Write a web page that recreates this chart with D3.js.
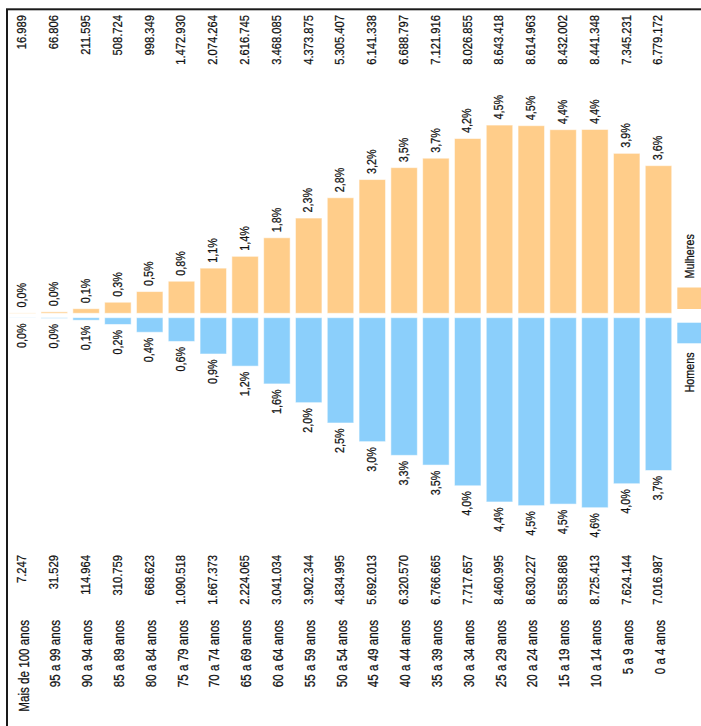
<!DOCTYPE html>
<html>
<head>
<meta charset="utf-8">
<script src="https://cdn.jsdelivr.net/npm/d3@7"></script>
<style>
  html, body { margin: 0; padding: 0; background: #fff; overflow: hidden; }
  svg { display: block; }
  text { font-family: "Liberation Sans", Arial, sans-serif; fill: #111; stroke: #111; stroke-width: 0.25px; }
</style>
</head>
<body>
<svg id="chart" width="701" height="726"></svg>
<script>
// Faixas etárias, da mais velha para a mais nova
const faixas = [
  "Mais de 100 anos", "95 a 99 anos", "90 a 94 anos", "85 a 89 anos", "80 a 84 anos",
  "75 a 79 anos", "70 a 74 anos", "65 a 69 anos", "60 a 64 anos", "55 a 59 anos",
  "50 a 54 anos", "45 a 49 anos", "40 a 44 anos", "35 a 39 anos", "30 a 34 anos",
  "25 a 29 anos", "20 a 24 anos", "15 a 19 anos", "10 a 14 anos", "5 a 9 anos", "0 a 4 anos"
];

// População feminina por faixa
const mulheres = [
  16989, 66806, 211595, 508724, 998349,
  1472930, 2074264, 2616745, 3468085, 4373875,
  5305407, 6141338, 6688797, 7121916, 8026855,
  8643418, 8614963, 8432002, 8441348, 7345231, 6779172
];

// População masculina por faixa
const homens = [
  7247, 31529, 114964, 310759, 668623,
  1090518, 1667373, 2224065, 3041034, 3902344,
  4834995, 5692013, 6320570, 6766665, 7717657,
  8460995, 8630227, 8558868, 8725413, 7624144, 7016987
];

const legenda = ["Mulheres", "Homens"];
const cores = { mulheres: "#FFCD8A", homens: "#8BCFFB" };

const ptBR = d3.formatLocale({ decimal: ",", thousands: ".", grouping: [3], currency: ["R$", ""] });
const fmtNum = ptBR.format(",d");
const fmtPct = ptBR.format(".1f");
const total = d3.sum(mulheres) + d3.sum(homens);
const pct = v => fmtPct(v / total * 100) + "%";

const svg = d3.select("#chart");

// Moldura
svg.append("rect")
  .attr("x", 7).attr("y", 9.3)
  .attr("width", 800).attr("height", 800)
  .attr("fill", "none").attr("stroke", "#1a1a1a").attr("stroke-width", 2);

// Escalas
const x = d3.scaleBand()
  .domain(faixas)
  .range([6.6, 6.6 + 21 * 31.8])
  .paddingInner(0.167)
  .paddingOuter(0.0835);

const len = d3.scaleLinear().domain([0, 9e6]).range([0, 196]);

const baseM = 313.3;   // base das barras femininas (crescem para cima)
const baseH = 317.7;   // base das barras masculinas (crescem para baixo)
const cx = d => x(d) + x.bandwidth() / 2;

// Rótulo girado (lê de baixo para cima), fonte levemente condensada
function rotLabel(g, px, py, txt, anchor, size) {
  g.append("text")
    .attr("transform", `translate(${px},${py}) rotate(-90) scale(0.83,1)`)
    .attr("text-anchor", anchor)
    .attr("dy", "0.36em")
    .style("font-size", size + "px")
    .text(txt);
}

// Barras femininas
svg.append("g").selectAll("rect")
  .data(faixas)
  .join("rect")
  .attr("x", d => x(d))
  .attr("width", x.bandwidth())
  .attr("y", (d, i) => baseM - len(mulheres[i]))
  .attr("height", (d, i) => len(mulheres[i]))
  .attr("fill", cores.mulheres)
  .attr("stroke", "rgba(255,255,255,0.55)")
  .attr("stroke-width", 1);

// Barras masculinas
svg.append("g").selectAll("rect")
  .data(faixas)
  .join("rect")
  .attr("x", d => x(d))
  .attr("width", x.bandwidth())
  .attr("y", baseH)
  .attr("height", (d, i) => len(homens[i]))
  .attr("fill", cores.homens)
  .attr("stroke", "rgba(255,255,255,0.55)")
  .attr("stroke-width", 1);

const lab = svg.append("g");

faixas.forEach((f, i) => {
  const px = cx(f) - 1;
  // Totais femininos no topo
  rotLabel(lab, px, 15, fmtNum(mulheres[i]), "end", 13.5);
  // Percentuais femininos acima das barras
  rotLabel(lab, px, baseM - len(mulheres[i]) - 5.5, pct(mulheres[i]), "start", 13);
  // Percentuais masculinos abaixo das barras
  rotLabel(lab, px, baseH + len(homens[i]) + 5.5, pct(homens[i]), "end", 13);
  // Totais masculinos
  rotLabel(lab, px, 555, fmtNum(homens[i]), "end", 13.5);
  // Faixas etárias
  rotLabel(lab, px + 2, 620, f, "end", 14);
});

// Legenda
const leg = svg.append("g");
leg.append("rect").attr("x", 677.3).attr("y", 287.5).attr("width", 30).attr("height", 21.5)
  .attr("fill", cores.mulheres);
leg.append("rect").attr("x", 677.3).attr("y", 322.7).attr("width", 30).attr("height", 20.6)
  .attr("fill", cores.homens);
rotLabel(leg, 689, 278.5, legenda[0], "start", 13);
rotLabel(leg, 689, 392.5, legenda[1], "start", 13);
</script>
</body>
</html>
